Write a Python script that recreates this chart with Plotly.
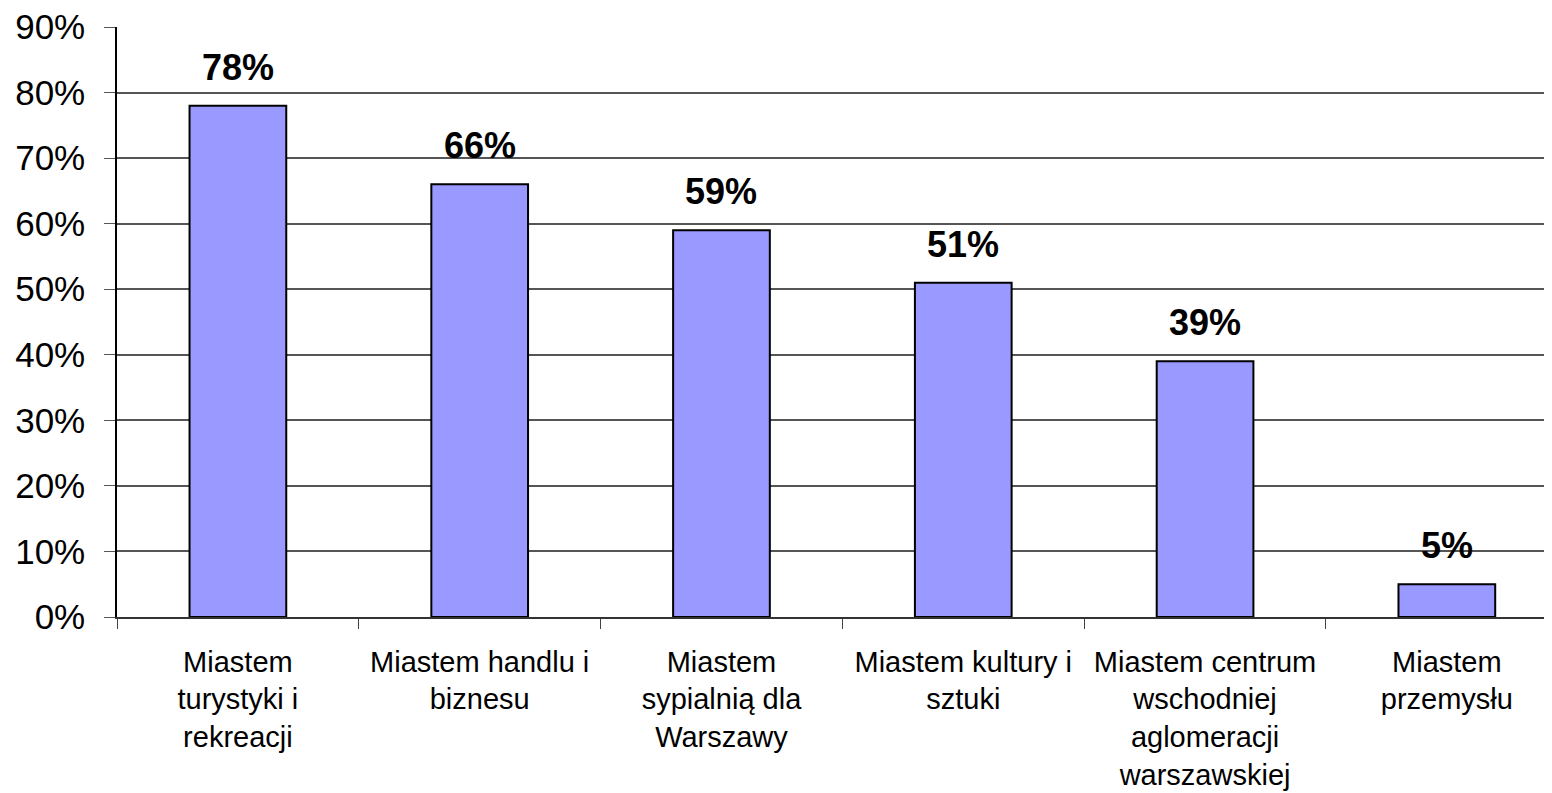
import plotly.graph_objects as go

categories = [
    "Miastem<br>turystyki i<br>rekreacji",
    "Miastem handlu i<br>biznesu",
    "Miastem<br>sypialnią dla<br>Warszawy",
    "Miastem kultury i<br>sztuki",
    "Miastem centrum<br>wschodniej<br>aglomeracji<br>warszawskiej",
    "Miastem<br>przemysłu",
]
values = [0.78, 0.66, 0.59, 0.51, 0.39, 0.05]
labels = ["78%", "66%", "59%", "51%", "39%", "5%"]

FONT = "Liberation Sans, Arial, sans-serif"

fig = go.Figure(go.Bar(
    x=categories,
    y=values,
    width=0.4,
    marker=dict(color="#9999FF", line=dict(color="#000000", width=2)),
    hoverinfo="skip",
))

for cat, val, lab in zip(categories, values, labels):
    fig.add_annotation(
        x=cat, y=val, text=f"<b>{lab}</b>", showarrow=False,
        yanchor="bottom", yshift=16,
        font=dict(family=FONT, size=36, color="#000000"),
    )

fig.update_layout(
    width=1552,
    height=793,
    plot_bgcolor="white",
    paper_bgcolor="white",
    margin=dict(l=109, r=0, t=19, b=184),
    showlegend=False,
    bargap=0.6,
    font=dict(family=FONT, color="#000000"),
)
fig.update_xaxes(
    type="category",
    range=[-0.5, 5.468],
    showline=True, linecolor="#333333", linewidth=1.5,
    ticks="outside", tickson="boundaries", ticklen=10, tickcolor="#444444",
    tickfont=dict(size=29, family=FONT),
    ticklabelstandoff=18,
    ticklabeloverflow="allow",
    showgrid=False,
    tickangle=0,
)
fig.update_yaxes(
    range=[0, 0.9],
    dtick=0.1,
    tickformat=".0%",
    showline=True, linecolor="#000000", linewidth=1.5,
    ticks="outside", ticklen=11, tickcolor="#555555",
    tickfont=dict(size=35, family=FONT),
    ticklabelstandoff=12,
    ticklabeloverflow="allow",
    showgrid=True, gridcolor="#555555", gridwidth=1.5,
    zeroline=False,
)

fig.write_html("out.html")
